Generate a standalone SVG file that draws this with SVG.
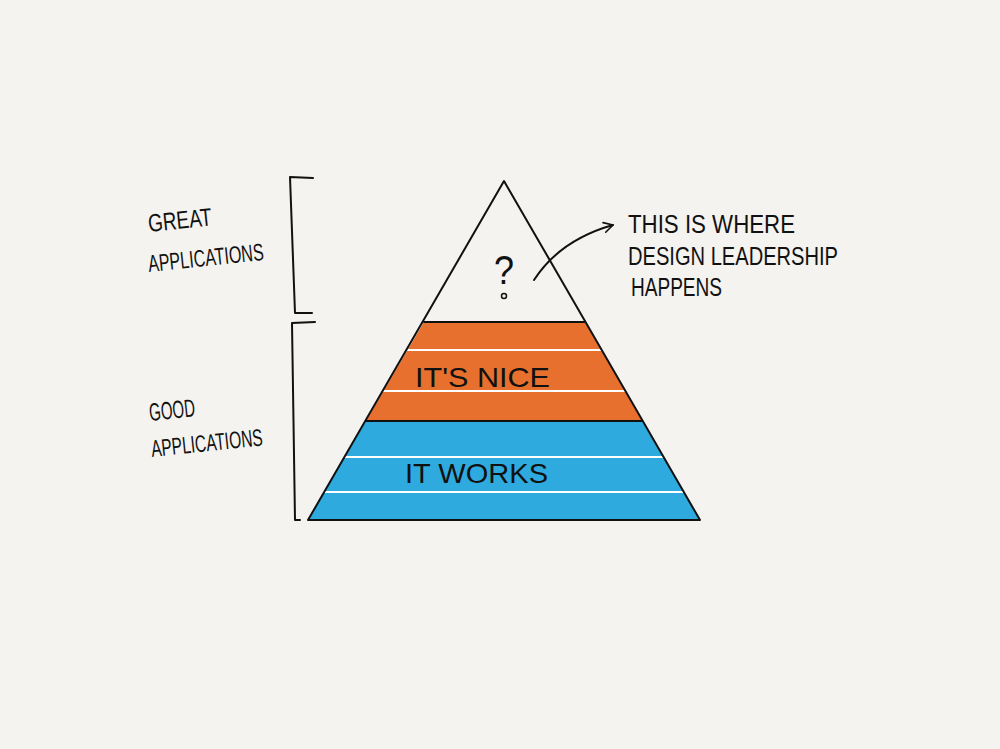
<svg xmlns="http://www.w3.org/2000/svg" width="1000" height="749" viewBox="0 0 1000 749">
<defs>
<marker id="ah" markerWidth="12" markerHeight="12" refX="10" refY="6" orient="auto" markerUnits="userSpaceOnUse">
<path d="M1,1 L10,6 L1,11" fill="none" stroke="#111" stroke-width="1.6" stroke-linecap="round" stroke-linejoin="round"/>
</marker>
<style>
.ink{fill:none;stroke:#111;stroke-width:2;stroke-linecap:round;stroke-linejoin:round}
.hand{font-family:"Liberation Sans",Arial,sans-serif;fill:#111;font-weight:normal}
.wl{stroke:#fff;stroke-width:2}
</style>
</defs>
<rect width="1000" height="749" fill="#f4f3ef"/>
<g id="pyramid">
<polygon points="424,322 585,322 642,421 366,421" fill="#e8702e"/>
<polygon points="366,421 642,421 700,520 308,520" fill="#2faade"/>
<line class="wl" x1="407" y1="350" x2="601" y2="350"/>
<line class="wl" x1="383" y1="391" x2="625" y2="391"/>
<line class="wl" x1="345" y1="457" x2="663" y2="457"/>
<line class="wl" x1="324" y1="492" x2="684" y2="492"/>
<polyline class="ink" points="308,520 504,181 700,520 308,520"/>
<line class="ink" x1="424" y1="322" x2="585" y2="322" stroke-width="1.6"/>
<line class="ink" x1="366" y1="421" x2="642" y2="421" stroke-width="1.4"/>
</g>
<g id="top-label">
<text class="hand" x="504" y="284" font-size="40" text-anchor="middle" textLength="20" lengthAdjust="spacingAndGlyphs">?</text>
<circle cx="504" cy="296" r="2.5" fill="none" stroke="#111" stroke-width="1.5"/>
</g>
<g id="nice"><text class="hand" x="415" y="387" font-size="28" textLength="135" lengthAdjust="spacingAndGlyphs">IT'S  NICE</text></g>
<g id="works"><text class="hand" x="405" y="483" font-size="28" textLength="143" lengthAdjust="spacingAndGlyphs">IT  WORKS</text></g>
<g id="great">
<path class="ink" d="M313,178 L290,177 L295,313 L312,313"/>
<text class="hand" font-size="25" transform="translate(149,232) rotate(-6)" textLength="64" lengthAdjust="spacingAndGlyphs">GREAT</text>
<text class="hand" font-size="24" transform="translate(149,272) rotate(-6)" textLength="116" lengthAdjust="spacingAndGlyphs">APPLICATIONS</text>
</g>
<g id="good">
<path class="ink" d="M315,322 L292,323 L295,520 L300,520"/>
<text class="hand" font-size="25" transform="translate(150,421) rotate(-6)" textLength="46" lengthAdjust="spacingAndGlyphs">GOOD</text>
<text class="hand" font-size="24" transform="translate(152,457) rotate(-6)" textLength="112" lengthAdjust="spacingAndGlyphs">APPLICATIONS</text>
</g>
<g id="note">
<text class="hand" x="628" y="233" font-size="26" textLength="167" lengthAdjust="spacingAndGlyphs">THIS IS  WHERE</text>
<text class="hand" x="628" y="265" font-size="26" textLength="210" lengthAdjust="spacingAndGlyphs">DESIGN LEADERSHIP</text>
<text class="hand" x="631" y="296" font-size="26" textLength="91" lengthAdjust="spacingAndGlyphs">HAPPENS</text>
</g>
<g id="connectors">
<path class="ink" d="M534,280 Q560,240 613,225" stroke-width="1.6" marker-end="url(#ah)"/>
</g>
</svg>
